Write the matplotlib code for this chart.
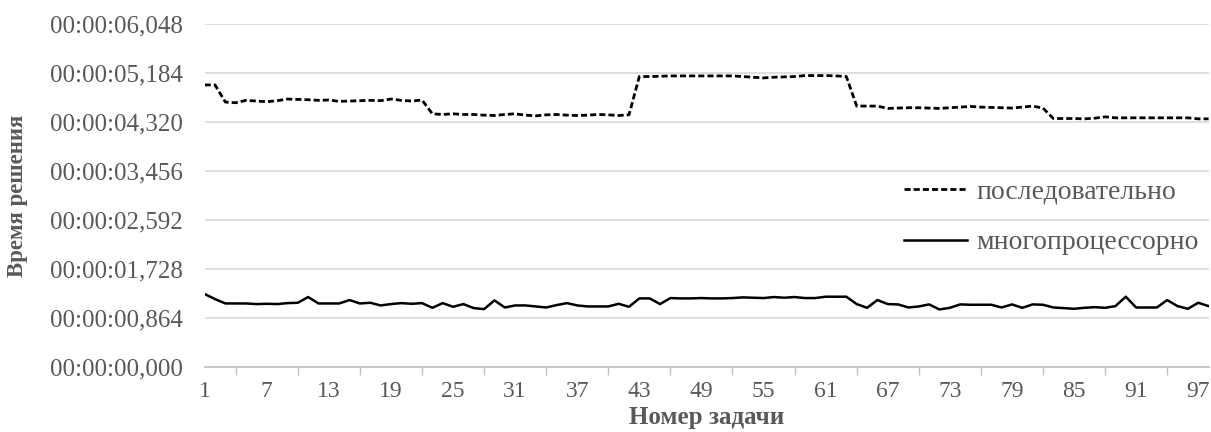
import matplotlib
matplotlib.use("Agg")
import matplotlib.pyplot as plt
from matplotlib.ticker import FixedLocator, FuncFormatter
import numpy as np

# task numbers 1..98
tasks = list(range(1, 99))

# solving time, seconds
sequential = [
    4.977, 4.977, 4.675, 4.663, 4.705, 4.693, 4.681, 4.699, 4.728, 4.722,
    4.716, 4.705, 4.711, 4.687, 4.693, 4.699, 4.705, 4.699, 4.728, 4.705,
    4.693, 4.711, 4.468, 4.456, 4.468, 4.456, 4.456, 4.444, 4.438, 4.456,
    4.468, 4.444, 4.432, 4.450, 4.456, 4.444, 4.438, 4.444, 4.456, 4.450,
    4.438, 4.450, 5.125, 5.125, 5.130, 5.136, 5.136, 5.136, 5.136, 5.136,
    5.136, 5.136, 5.125, 5.113, 5.101, 5.113, 5.119, 5.125, 5.142, 5.142,
    5.142, 5.136, 5.125, 4.604, 4.604, 4.604, 4.563, 4.569, 4.575, 4.575,
    4.569, 4.563, 4.575, 4.586, 4.598, 4.586, 4.580, 4.575, 4.569, 4.586,
    4.604, 4.569, 4.385, 4.385, 4.385, 4.379, 4.391, 4.415, 4.397, 4.397,
    4.397, 4.397, 4.397, 4.397, 4.397, 4.397, 4.379, 4.379,
]

multiproc = [
    1.290, 1.201, 1.124, 1.124, 1.124, 1.113, 1.118, 1.113, 1.130, 1.136,
    1.237, 1.124, 1.124, 1.124, 1.184, 1.124, 1.136, 1.089, 1.113, 1.130,
    1.118, 1.130, 1.047, 1.130, 1.065, 1.113, 1.042, 1.024, 1.178, 1.053,
    1.089, 1.089, 1.071, 1.053, 1.095, 1.130, 1.089, 1.071, 1.071, 1.071,
    1.118, 1.065, 1.213, 1.213, 1.113, 1.219, 1.213, 1.213, 1.219, 1.213,
    1.213, 1.219, 1.231, 1.225, 1.219, 1.237, 1.225, 1.237, 1.219, 1.219,
    1.243, 1.243, 1.243, 1.113, 1.047, 1.184, 1.113, 1.107, 1.053, 1.071,
    1.107, 1.018, 1.047, 1.107, 1.101, 1.101, 1.101, 1.053, 1.107, 1.047,
    1.107, 1.101, 1.053, 1.042, 1.030, 1.047, 1.059, 1.047, 1.077, 1.243,
    1.053, 1.053, 1.053, 1.184, 1.077, 1.030, 1.136, 1.077,
]

y_ticks = [0.0, 0.864, 1.728, 2.592, 3.456, 4.320, 5.184, 6.048]
x_labels = list(range(1, 98, 6))
x_marks = list(range(1, 99, 3))


def fmt_time(v, pos):
    ms = int(round(v * 1000))
    s, ms = divmod(ms, 1000)
    return "00:00:%02d,%03d" % (s, ms)


plt.rcParams['font.family'] = ['Liberation Serif', 'DejaVu Serif']

fig = plt.figure(figsize=(12.11, 4.32), dpi=100)
ax = fig.add_axes([0.169, 0.150, 0.829, 0.794])

ax.plot(tasks, sequential, color="black", lw=2.0, ls=(0, (2.2, 1.1)),
        label="последовательно")
ax.plot(tasks, multiproc, color="black", lw=1.8, label="многопроцессорно")

ax.set_xlim(1, 98)
ax.set_ylim(0, 6.048)

ax.yaxis.set_major_locator(FixedLocator(y_ticks))
ax.yaxis.set_major_formatter(FuncFormatter(fmt_time))
ax.grid(axis="y", color="#d9d9d9", lw=1.2)
ax.set_axisbelow(True)

ax.xaxis.set_major_locator(FixedLocator(x_labels))
ax.xaxis.set_minor_locator(FixedLocator(x_marks))
ax.tick_params(axis="x", which="major", length=0, pad=10,
               labelsize=17, labelcolor="#595959")
ax.tick_params(axis="x", which="minor", length=6, color="#bfbfbf", width=1)
ax.tick_params(axis="y", length=0, pad=16, labelsize=18, labelcolor="#595959")

for side in ["top", "right", "left"]:
    ax.spines[side].set_visible(False)
ax.spines["bottom"].set_color("#bfbfbf")
ax.spines["bottom"].set_linewidth(1.2)

ax.set_xlabel("Номер задачи", fontsize=18, fontweight="bold",
              color="#595959", labelpad=2.5)
ax.set_ylabel("Время решения", fontsize=16.5, fontweight="bold",
              color="#595959")
ax.yaxis.set_label_coords(-0.176, 0.5)

leg = ax.legend(loc="center left", bbox_to_anchor=(0.672, 0.437), frameon=False,
                fontsize=20, handlelength=2.25, handletextpad=0.36,
                labelspacing=0.9)
for t in leg.get_texts():
    t.set_color("#595959")

fig.savefig("out.png", dpi=100)
